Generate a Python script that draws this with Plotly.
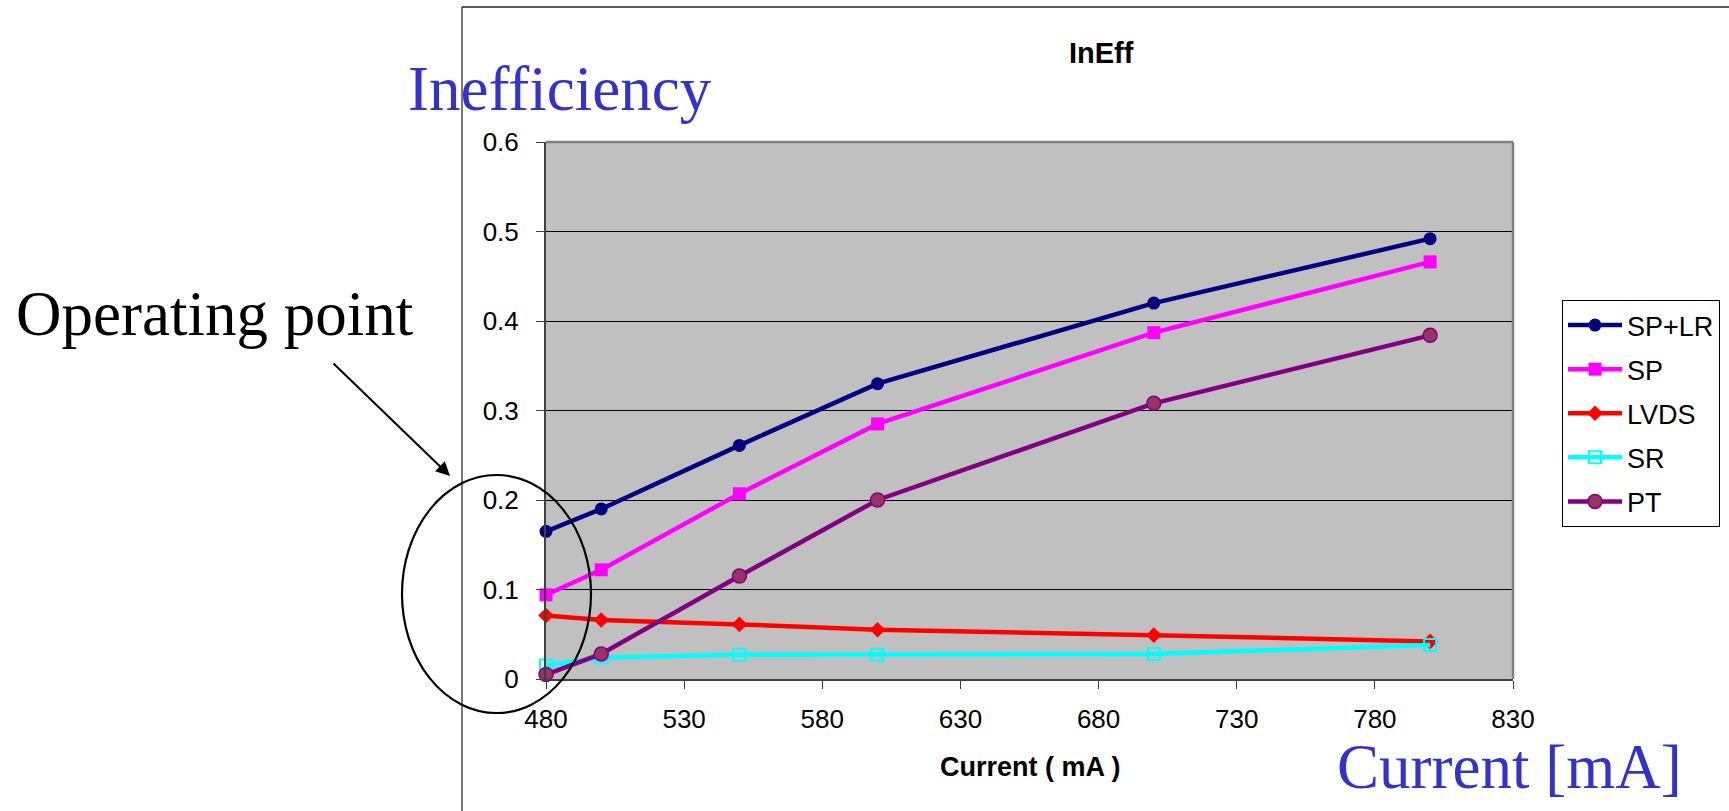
import plotly.graph_objects as go

# Measured inefficiency versus supply current for each configuration
current_ma = [480, 500, 550, 600, 700, 800]
sp_lr = [0.165, 0.190, 0.261, 0.330, 0.420, 0.492]
sp = [0.094, 0.122, 0.207, 0.285, 0.387, 0.466]
lvds = [0.071, 0.066, 0.061, 0.055, 0.049, 0.042]
sr = [0.015, 0.024, 0.027, 0.027, 0.028, 0.038]
pt = [0.005, 0.028, 0.115, 0.200, 0.308, 0.384]

x_ticks = [480, 530, 580, 630, 680, 730, 780, 830]
y_ticks = [0, 0.1, 0.2, 0.3, 0.4, 0.5, 0.6]

W, H = 1729, 811
L, R, T, B = 546, 216, 142, 132
PW, PH = W - L - R, H - T - B


def px(xp):
    return (xp - L) / PW


def py(yp):
    return (H - B - yp) / PH


ARIAL = "Arial, Liberation Sans, sans-serif"
TIMES = "Times New Roman, Liberation Serif, serif"

series = [
    ("SP+LR", sp_lr, dict(color="#000080", width=4.5),
     dict(symbol="circle", size=13, color="#000080")),
    ("SP", sp, dict(color="#FF00FF", width=4.5),
     dict(symbol="square", size=13, color="#FF00FF")),
    ("LVDS", lvds, dict(color="#FF0000", width=4.5),
     dict(symbol="diamond", size=12, color="#FF0000")),
    ("SR", sr, dict(color="#00FFFF", width=4.5),
     dict(symbol="square-open", size=12, color="#00FFFF", line=dict(width=2))),
    ("PT", pt, dict(color="#800080", width=4.5),
     dict(symbol="circle", size=14, color="#993366",
          line=dict(color="#800080", width=1.5))),
]

fig = go.Figure()
for i, (name, vals, line, marker) in enumerate(series):
    fig.add_trace(go.Scatter(
        x=current_ma, y=vals, name=name, mode="lines+markers",
        line=line, marker=marker, cliponaxis=False, legendgroup=f"g{i}",
    ))

fig.update_layout(
    width=W, height=H,
    margin=dict(l=L, r=R, t=T, b=B, autoexpand=False),
    paper_bgcolor="white",
    plot_bgcolor="#C0C0C0",
    showlegend=True,
    legend=dict(
        x=px(1562), y=py(300), xanchor="left", yanchor="top",
        bgcolor="white", bordercolor="black", borderwidth=1,
        font=dict(family=ARIAL, size=27, color="black"),
        tracegroupgap=6, itemwidth=54,
    ),
    xaxis=dict(
        range=[480, 830], tickvals=x_ticks, ticktext=[str(v) for v in x_ticks],
        showgrid=False, zeroline=False,
        showline=True, linecolor="#404040", linewidth=2,
        ticks="outside", ticklen=8, tickcolor="#404040", tickwidth=1,
        tickfont=dict(family=ARIAL, size=26, color="black"),
        ticklabelstandoff=8,
    ),
    yaxis=dict(
        range=[0, 0.6], tickvals=y_ticks, ticktext=[f"{v:g}" for v in y_ticks],
        showgrid=True, gridcolor="black", gridwidth=1, zeroline=False,
        showline=True, linecolor="#404040", linewidth=2,
        ticks="outside", ticklen=8, tickcolor="#404040", tickwidth=1,
        tickfont=dict(family=ARIAL, size=26, color="black"),
        ticklabelstandoff=12,
    ),
)

shapes = [
    # plot area frame (grey on top and right)
    dict(type="line", xref="paper", yref="paper", x0=0, x1=1, y0=1, y1=1,
         line=dict(color="#808080", width=2.5)),
    dict(type="line", xref="paper", yref="paper", x0=1, x1=1, y0=0, y1=1,
         line=dict(color="#808080", width=2.5)),
    # chart object border
    dict(type="line", xref="paper", yref="paper", x0=px(462), x1=px(462),
         y0=py(7), y1=py(H + 5), line=dict(color="#202020", width=1.2)),
    dict(type="line", xref="paper", yref="paper", x0=px(462), x1=px(W + 5),
         y0=py(7), y1=py(7), line=dict(color="#202020", width=1.5)),
    # operating point ring
    dict(type="circle", xref="paper", yref="paper",
         x0=px(402), x1=px(591), y0=py(713), y1=py(475),
         line=dict(color="black", width=2.2), layer="above"),
]
fig.update_layout(shapes=shapes)

annotations = [
    dict(text="<b>InEff</b>", x=px(1101), y=py(53), xanchor="center", yanchor="middle",
         font=dict(family=ARIAL, size=29, color="black")),
    dict(text="<b>Current ( mA )</b>", x=px(1030), y=py(767), xanchor="center",
         yanchor="middle", font=dict(family=ARIAL, size=27, color="black")),
    dict(text="Inefficiency", x=px(406), y=py(89), xanchor="left", yanchor="middle",
         font=dict(family=TIMES, size=63, color="#3333CC")),
    dict(text="Current [mA]", x=px(1335), y=py(767), xanchor="left", yanchor="middle",
         font=dict(family=TIMES, size=63, color="#3333CC")),
    dict(text="Operating point", x=px(14), y=py(314), xanchor="left", yanchor="middle",
         font=dict(family=TIMES, size=63, color="black")),
    dict(text="", x=px(450), y=py(476), showarrow=True, ax=332 - 450, ay=362 - 476,
         arrowhead=2, arrowsize=1.4, arrowwidth=2, arrowcolor="black"),
]
for a in annotations:
    a.setdefault("showarrow", False)
    a.update(xref="paper", yref="paper")
fig.update_layout(annotations=annotations)

fig.write_html("out.html")
